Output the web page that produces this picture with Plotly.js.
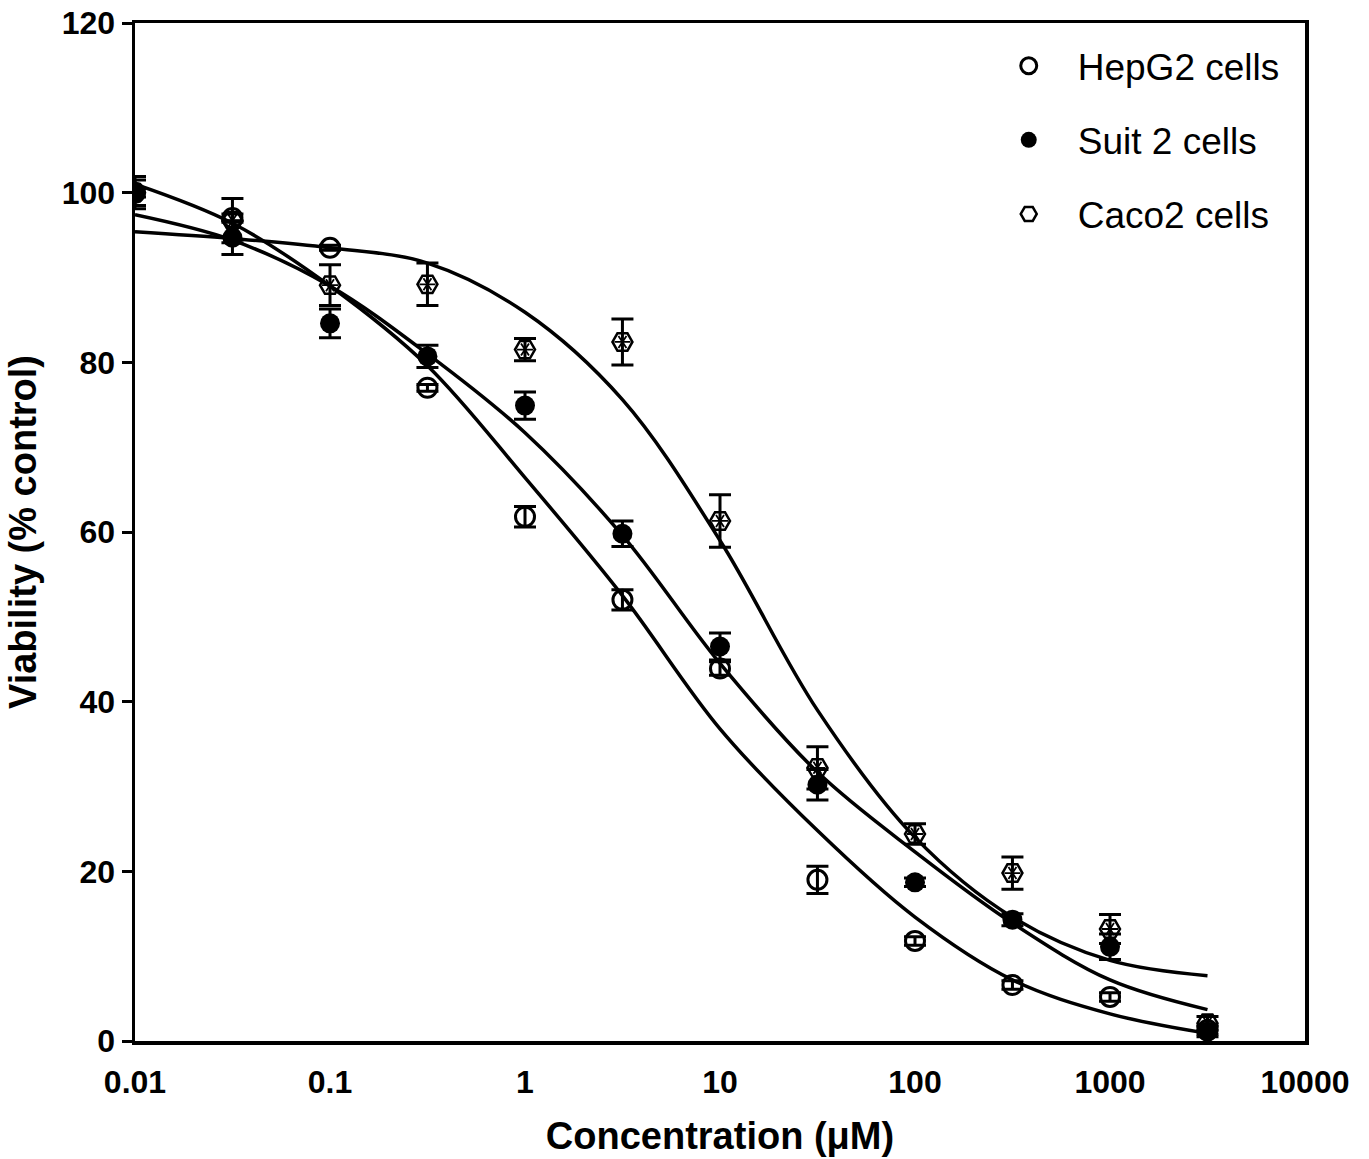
<!DOCTYPE html>
<html>
<head>
<meta charset="utf-8">
<script src="https://cdn.plot.ly/plotly-3.0.1.min.js"></script>
<style>html,body{margin:0;padding:0;background:#fff;}#chart{width:1369px;height:1159px;}</style>
</head>
<body>
<div id="chart"></div>
<script>
// Concentrations (µM)
const conc = [0.01, 0.0316, 0.1, 0.316, 1, 3.16, 10, 31.6, 100, 316, 1000, 3162];

// Measured viability (% control) and SEM
const hepG2 = [100, 97, 93.5, 77.0, 61.8, 52.0, 43.9, 19.0, 11.8, 6.6, 5.2, 1.3];
const hepG2Err = [0.5, 0.5, 0.3, 0.4, 1.2, 1.2, 0.8, 1.6, 0.5, 0.5, 0.5, 0.5];
const suit2 = [100, 94.7, 84.6, 80.7, 74.9, 59.8, 46.5, 30.2, 18.7, 14.3, 11.1, 1.1];
const suit2Err = [1.9, 2.0, 1.7, 1.3, 1.6, 1.5, 1.6, 1.8, 0.5, 0.7, 1.5, 0.6];
const caco2 = [100, 96.7, 89.1, 89.2, 81.5, 82.4, 61.3, 32.2, 24.4, 19.8, 13.2, 2.1];
const caco2Err = [1.5, 2.6, 2.4, 2.5, 1.3, 2.7, 3.1, 2.5, 1.2, 1.9, 1.7, 0.8];

// Fitted curves
const hepG2Fit = [101.0, 96.4, 89.0, 79.6, 66.4, 52.5, 36.8, 24.8, 14.6, 7.2, 3.2, 0.9];
const suit2Fit = [97.4, 94.4, 89.0, 81.0, 71.7, 59.6, 44.5, 31.7, 22.3, 13.9, 7.2, 3.7];
const caco2Fit = [95.4, 94.6, 93.5, 91.7, 85.9, 75.6, 59.0, 39.0, 24.0, 14.6, 9.5, 7.7];

// Axis ticks
const xTickVals = [0.01, 0.1, 1, 10, 100, 1000, 10000];
const xTickText = ['0.01', '0.1', '1', '10', '100', '1000', '10000'];
const yTickVals = [0, 20, 40, 60, 80, 100, 120];

const names = ['HepG2 cells', 'Suit 2 cells', 'Caco2 cells'];

const FONT = 'Liberation Sans, Arial, sans-serif';

function fitTrace(y) {
  return {x: conc, y: y, mode: 'lines', type: 'scatter', showlegend: false, hoverinfo: 'skip',
    line: {color: '#000', width: 3.5, shape: 'spline', smoothing: 1}};
}
function errBar(arr) {
  return {type: 'data', array: arr, visible: true, color: '#000', thickness: 3, width: 11};
}

const traces = [
  fitTrace(hepG2Fit), fitTrace(suit2Fit), fitTrace(caco2Fit),
  {x: conc, y: hepG2, name: names[0], legendgroup: 'a', type: 'scatter', mode: 'markers',
    error_y: errBar(hepG2Err),
    marker: {symbol: 'circle-open', size: 19, color: '#000', line: {width: 3, color: '#000'}}},
  {x: conc, y: suit2, name: names[1], legendgroup: 'b', type: 'scatter', mode: 'markers',
    error_y: errBar(suit2Err),
    marker: {symbol: 'circle', size: 20, color: '#000'}},
  {x: conc, y: caco2, name: names[2], legendgroup: 'c', type: 'scatter', mode: 'markers',
    error_y: errBar(caco2Err),
    marker: {symbol: 'hexagon2-open', size: 20, color: '#000', line: {width: 2.5, color: '#000'}}},
  {x: conc, y: caco2, legendgroup: 'c', showlegend: false, type: 'scatter', mode: 'markers',
    marker: {symbol: 'y-right-open', size: 10, color: '#000', line: {width: 1.8, color: '#000'}}},
  {x: conc, y: caco2, legendgroup: 'c', showlegend: false, type: 'scatter', mode: 'markers',
    marker: {symbol: 'y-left-open', size: 10, color: '#000', line: {width: 1.8, color: '#000'}}}
];

const layout = {
  width: 1369, height: 1159,
  margin: {l: 135, r: 64, t: 23, b: 118},
  paper_bgcolor: '#fff', plot_bgcolor: '#fff',
  showlegend: true,
  legend: {x: 0.722, y: 0.988, xanchor: 'left', yanchor: 'top', bgcolor: 'rgba(0,0,0,0)',
    font: {family: FONT, size: 37, color: '#000'},
    itemwidth: 88, tracegroupgap: 23, traceorder: 'grouped'},
  xaxis: {
    type: 'log', range: [-2, 4], tickvals: xTickVals, ticktext: xTickText,
    ticks: '', ticklabelstandoff: 10,
    showgrid: false, zeroline: false, showline: true, linecolor: '#000', linewidth: 3.5, mirror: true,
    tickfont: {family: FONT, size: 32, weight: 'bold', color: '#000'},
    title: {text: 'Concentration (\u03bcM)', standoff: 24,
      font: {family: FONT, size: 38, weight: 'bold', color: '#000'}}
  },
  yaxis: {
    range: [0, 120], tickvals: yTickVals,
    ticks: 'outside', ticklen: 10, tickwidth: 3, tickcolor: '#000',
    showgrid: false, zeroline: false, showline: true, linecolor: '#000', linewidth: 3.5, mirror: true,
    tickfont: {family: FONT, size: 32, weight: 'bold', color: '#000'},
    title: {text: 'Viability (% control)', standoff: 14,
      font: {family: FONT, size: 38, weight: 'bold', color: '#000'}}
  }
};

Plotly.newPlot('chart', traces, layout, {displayModeBar: false, staticPlot: true});
</script>
</body>
</html>
